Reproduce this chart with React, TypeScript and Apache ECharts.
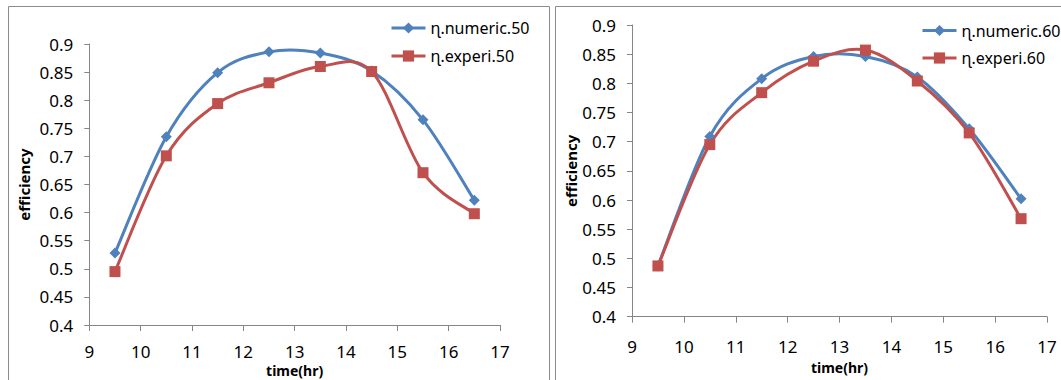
import React, { useEffect, useRef } from "react";
import * as echarts from "echarts";

const times = [9.5, 10.5, 11.5, 12.5, 13.5, 14.5, 15.5, 16.5];
const numeric50 = [0.528, 0.735, 0.849, 0.886, 0.884, 0.852, 0.765, 0.622];
const experi50 = [0.495, 0.701, 0.794, 0.831, 0.860, 0.851, 0.671, 0.598];
const numeric60 = [0.487, 0.709, 0.808, 0.846, 0.846, 0.811, 0.722, 0.602];
const experi60 = [0.487, 0.695, 0.784, 0.838, 0.857, 0.804, 0.715, 0.568];

const seriesNames = ["ɳ.numeric.50", "ɳ.experi.50", "ɳ.numeric.60", "ɳ.experi.60"];

const BLUE = "#4F81BD";
const RED = "#C0504D";
const FONT = "Noto Sans";

const pairs = (ys: number[]) => times.map((t, i) => [t, ys[i]]);

export default function App() {
  const ref = useRef<HTMLDivElement>(null);
  useEffect(() => {
    if (!ref.current) return;
    const chart = echarts.init(ref.current, undefined, { renderer: "svg" });
    const axisLine = { lineStyle: { color: "#868686", width: 1 } };
    const xAxis = (gridIndex: number, margin: number, nameGap: number) => ({
      type: "value",
      gridIndex,
      min: 9,
      max: 17,
      interval: 1,
      axisLine: { show: true, ...axisLine },
      axisTick: { show: true, length: 6, lineStyle: { color: "#868686" } },
      splitLine: { show: false },
      axisLabel: { margin, fontSize: 17, lineHeight: 16, fontFamily: FONT, color: "#000" },
      name: "time(hr)",
      nameLocation: "middle",
      nameGap,
      nameMoveOverlap: false,
      nameTextStyle: {
        fontSize: 14,
        lineHeight: 14,
        fontWeight: "bold",
        fontFamily: FONT,
        color: "#000",
      },
    });
    const yAxis = (gridIndex: number, margin: number, nameGap: number) => ({
      type: "value",
      gridIndex,
      min: 0.4,
      max: 0.9,
      interval: 0.05,
      axisLine: { show: true, ...axisLine },
      axisTick: { show: true, length: 5, lineStyle: { color: "#868686" } },
      splitLine: { show: false },
      axisLabel: {
        margin,
        fontSize: 17,
        fontFamily: FONT,
        color: "#000",
        formatter: (v: number) => String(Math.round(v * 100) / 100),
      },
      name: "efficiency",
      nameLocation: "middle",
      nameGap,
      nameMoveOverlap: false,
      nameTextStyle: { fontSize: 15, fontWeight: "bold", fontFamily: FONT, color: "#000" },
    });
    // Excel-like smoothed curve (Catmull-Rom Bezier) drawn through the axes' scales
    const curve = (ys: number[], idx: number, color: string) => ({
      type: "custom",
      name: "curve" + idx + color,
      xAxisIndex: idx,
      yAxisIndex: idx,
      data: pairs(ys),
      silent: true,
      clip: false,
      renderItem: (params: any, api: any) => {
        const i = params.dataIndex;
        const n = times.length;
        if (i >= n - 1) return null;
        const P = (k: number) => {
          const kk = Math.max(0, Math.min(n - 1, k));
          return api.coord([times[kk], ys[kk]]);
        };
        const p0 = P(i - 1), p1 = P(i), p2 = P(i + 1), p3 = P(i + 2);
        const t = 1 / 6;
        return {
          type: "bezierCurve",
          shape: {
            x1: p1[0],
            y1: p1[1],
            cpx1: p1[0] + (p2[0] - p0[0]) * t,
            cpy1: p1[1] + (p2[1] - p0[1]) * t,
            cpx2: p2[0] - (p3[0] - p1[0]) * t,
            cpy2: p2[1] - (p3[1] - p1[1]) * t,
            x2: p2[0],
            y2: p2[1],
          },
          style: { stroke: color, lineWidth: 3, fill: "none", lineCap: "round" },
        };
      },
    });
    const marks = (name: string, ys: number[], idx: number, blue: boolean) => ({
      type: "line",
      name,
      xAxisIndex: idx,
      yAxisIndex: idx,
      data: pairs(ys),
      symbol: blue ? "diamond" : "rect",
      symbolSize: 11,
      showSymbol: true,
      itemStyle: { color: blue ? BLUE : RED },
      lineStyle: { color: blue ? BLUE : RED, width: 3, opacity: 0 },
    });
    const legend = (left: number, top: number, gap: number, data: string[]) => ({
      left,
      top,
      padding: 0,
      orient: "vertical",
      itemWidth: 34,
      itemHeight: 14,
      itemGap: gap,
      data,
      lineStyle: { opacity: 1, width: 3 },
      textStyle: { fontSize: 16, fontFamily: FONT, color: "#000" },
    });
    chart.setOption({
      animation: false,
      backgroundColor: "#ffffff",
      grid: [
        { left: 89.3, width: 410.7, top: 44, height: 281, outerBoundsMode: "none", containLabel: false },
        { left: 632, width: 415, top: 25, height: 291.7, outerBoundsMode: "none", containLabel: false },
      ],
      xAxis: [xAxis(0, 18, 38), xAxis(1, 22, 44)],
      yAxis: [yAxis(0, 16, 58), yAxis(1, 16, 54)],
      legend: [
        legend(390, 20, 12, [seriesNames[0], seriesNames[1]]),
        legend(921, 22.5, 11.5, [seriesNames[2], seriesNames[3]]),
      ],
      graphic: [
        {
          type: "rect",
          shape: { x: 8.5, y: 6.5, width: 541, height: 400 },
          style: { fill: "none", stroke: "#8c8c8c", lineWidth: 1 },
          silent: true,
          z: -1,
        },
        {
          type: "rect",
          shape: { x: 555.5, y: 6.5, width: 520, height: 400 },
          style: { fill: "none", stroke: "#8c8c8c", lineWidth: 1 },
          silent: true,
          z: -1,
        },
      ],
      series: [
        curve(numeric50, 0, BLUE),
        marks(seriesNames[0], numeric50, 0, true),
        curve(experi50, 0, RED),
        marks(seriesNames[1], experi50, 0, false),
        curve(numeric60, 1, BLUE),
        marks(seriesNames[2], numeric60, 1, true),
        curve(experi60, 1, RED),
        marks(seriesNames[3], experi60, 1, false),
      ],
    });
    return () => chart.dispose();
  }, []);
  return (
    <div
      ref={ref}
      style={{ position: "fixed", left: 0, top: 0, width: 1061, height: 380, background: "#fff" }}
    />
  );
}
